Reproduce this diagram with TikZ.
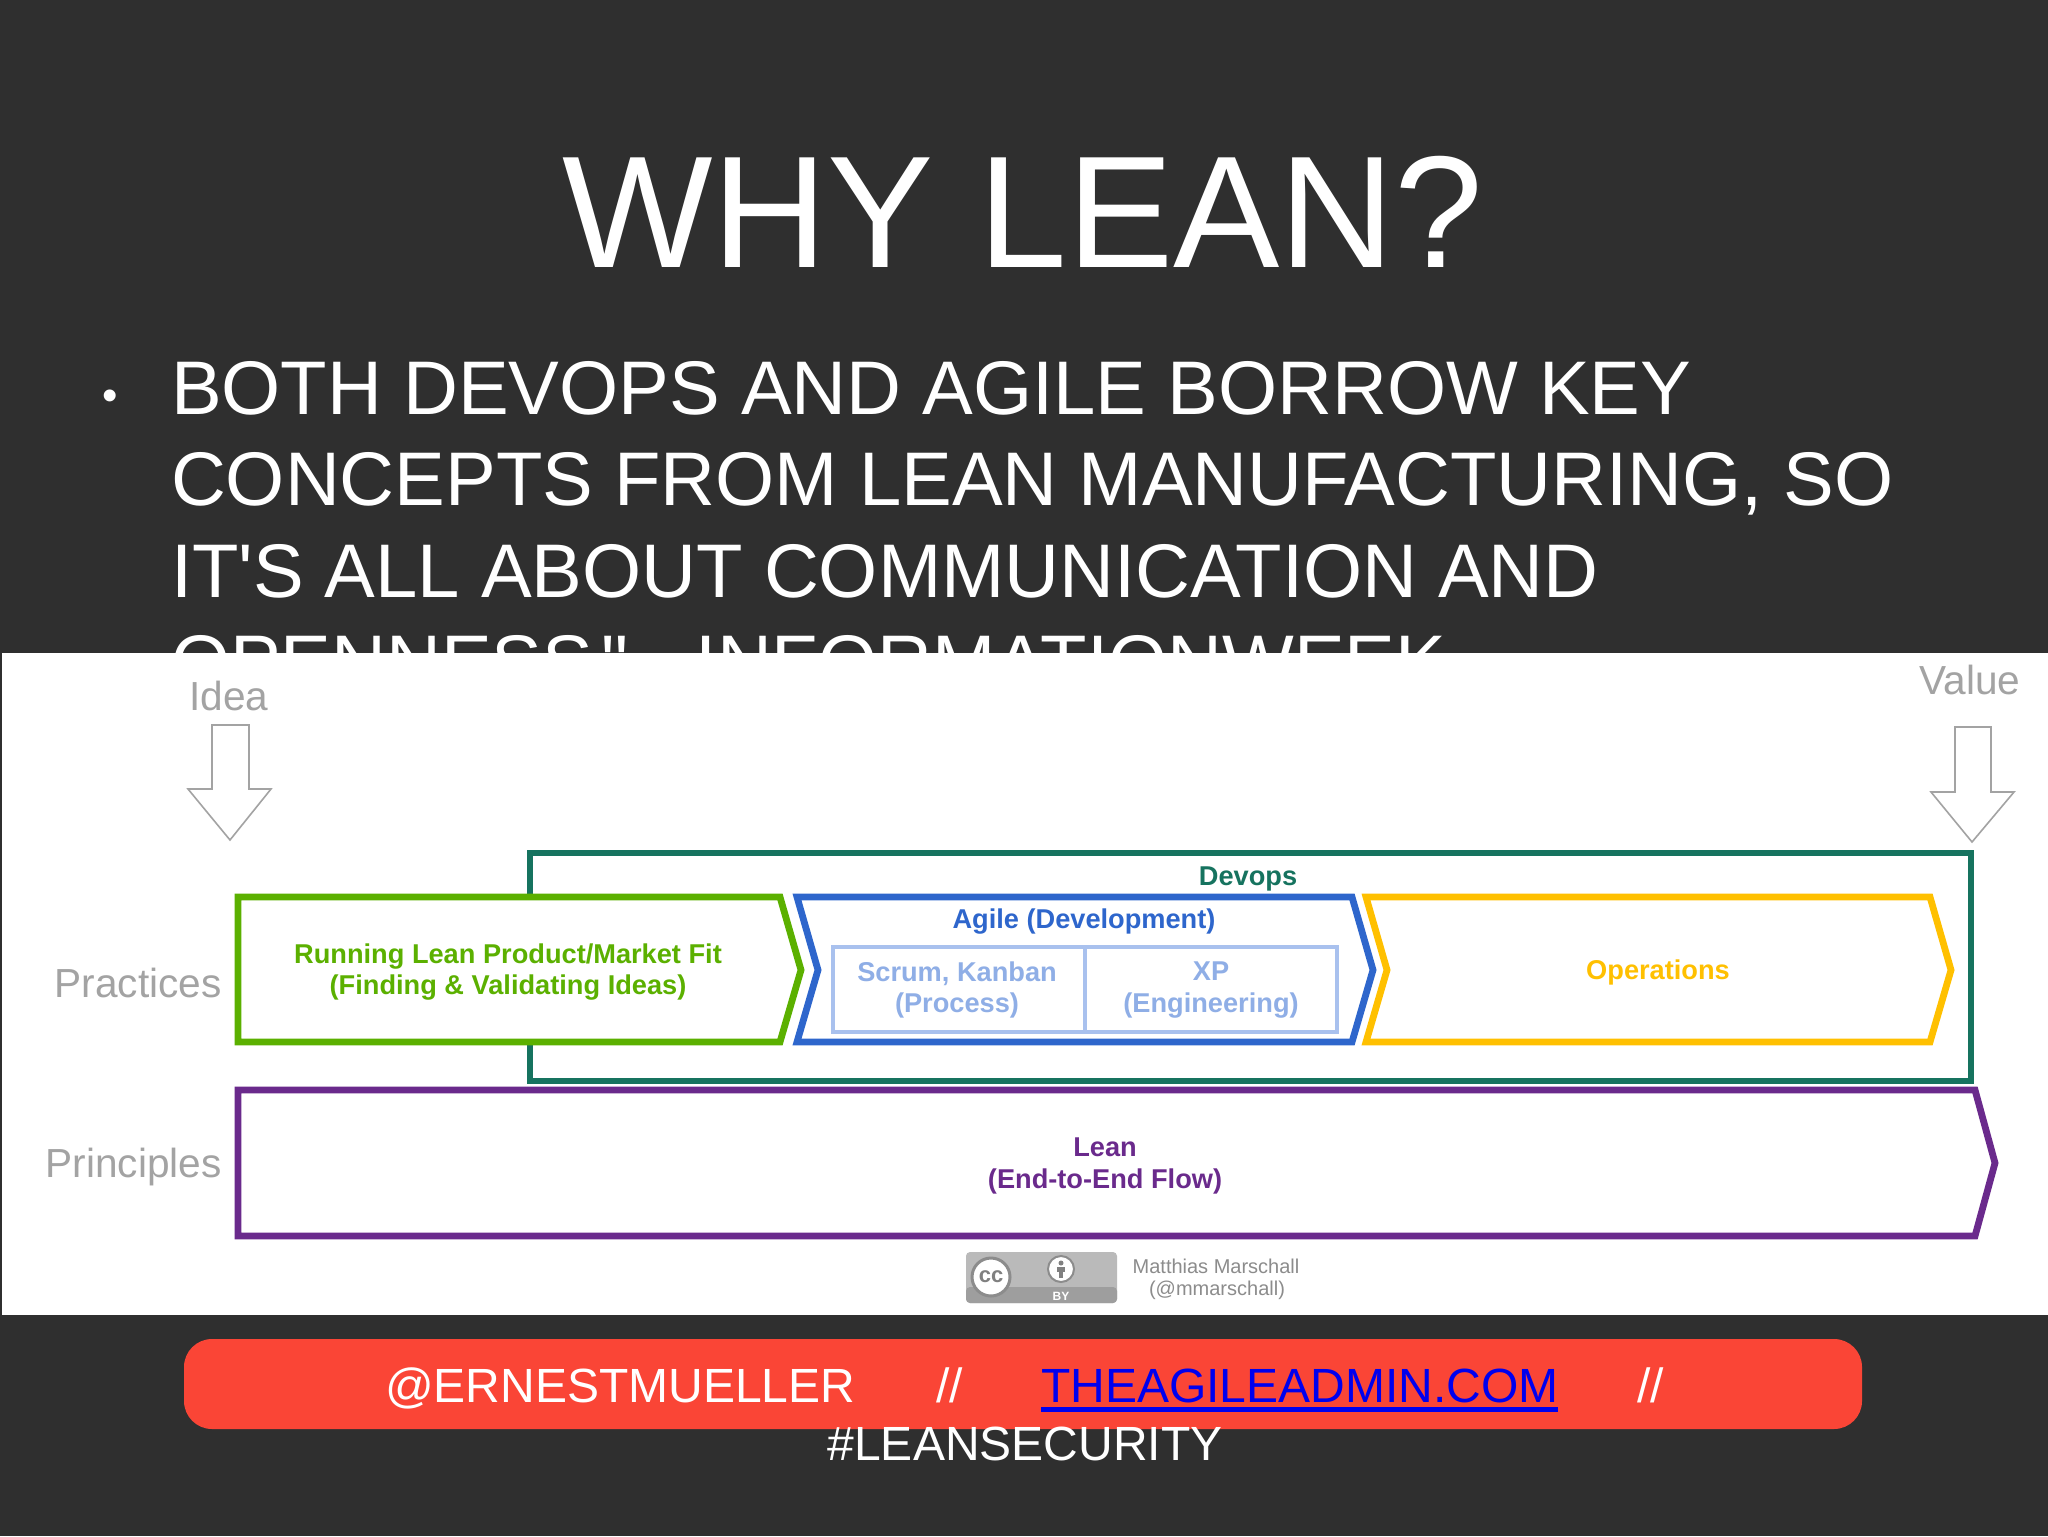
\documentclass[tikz,border=0pt]{standalone}
\usepackage{fontspec}
\setmainfont{Liberation Sans}
\newfontfamily\plainfont{Liberation Sans}
\definecolor{bgdark}{HTML}{2F2F2F}
\definecolor{redbar}{HTML}{FA4536}
\definecolor{linkblue}{HTML}{0000EE}
\definecolor{gtext}{HTML}{A3A3A3}
\definecolor{cgreen}{HTML}{5BB000}
\definecolor{cblue}{HTML}{2E66CC}
\definecolor{cteal}{HTML}{16735F}
\definecolor{cyellow}{HTML}{FFC000}
\definecolor{cpurple}{HTML}{6A2A8C}
\definecolor{clight}{HTML}{A9C1EE}
\definecolor{clighttext}{HTML}{8FAEE6}
\newcommand{\fsz}[1]{\fontsize{#1pt}{#1pt}\selectfont}
\tikzset{
  x=0.5pt,y=-0.5pt,
  slide/.style={inner sep=0pt,outer sep=0pt,text=white,anchor=base west},
  boxline/.style={line width=3.4pt,fill=white,miter limit=10},
  downarrow/.style={draw=gtext,line width=0.8pt,fill=white},
  graylabel/.style={inner sep=0pt,text=gtext,font=\fsz{20.3}},
  boxtext/.style={inner sep=0pt,align=center,font=\fsz{13.6}\bfseries},
  subtext/.style={inner sep=0pt,align=center,text=clighttext,font=\fsz{13.6}\bfseries},
}
\begin{document}
\begin{tikzpicture}
\useasboundingbox (0,0) rectangle (2048,1536);
\fill[bgdark] (0,0) rectangle (2048,1536);
\node[inner sep=0pt,text=white,font=\fsz{79.7}] (title) at (1023,212) {WHY LEAN?};
\node[slide,anchor=base,font=\fsz{22}] (bullet) at (110,410) {•};
\node[slide,font=\fsz{38}] (l1) at (171,414) {BOTH DEVOPS AND AGILE BORROW KEY};
\node[slide,font=\fsz{38}] (l2) at (171,505.5) {CONCEPTS FROM LEAN MANUFACTURING, SO};
\node[slide,font=\fsz{38}\plainfont] (l3) at (171,597) {IT'S ALL ABOUT COMMUNICATION AND};
\node[slide,font=\fsz{38}\plainfont] (l4) at (171,688.5) {OPENNESS.\kern-6.5pt" - INFORMATIONWEEK};
% white image panel
\fill[white] (2,653) rectangle (2048,1315);
% gray arrows and labels
\node[graylabel] (idea) at (229,696) {Idea};
\draw[downarrow] (212,725) -- (249,725) -- (249,789) -- (271,789) -- (230,840) -- (188,789) -- (212,789) -- cycle;
\node[graylabel] (value) at (1970,680) {Value};
\draw[downarrow] (1955,727) -- (1991,727) -- (1991,792) -- (2014,792) -- (1972,842) -- (1931,792) -- (1955,792) -- cycle;
\node[graylabel,anchor=east] (practices) at (222,983) {Practices};
\node[graylabel,anchor=east] (principles) at (222,1167) {Principles};
% devops
\draw[boxline,draw=cteal] (530,853) rectangle (1971,1081);
\node[boxtext,text=cteal] (devops) at (1248,879) {Devops};
% green chevron
\draw[boxline,draw=cgreen] (238,897) -- (780,897) -- (801,970) -- (780,1042) -- (238,1042) -- cycle;
\node[boxtext,text=cgreen] (running) at (508,972) {Running Lean Product/Market Fit\\[2pt](Finding \& Validating Ideas)};
% blue chevron
\draw[boxline,draw=cblue] (797,897) -- (1352,897) -- (1373,970) -- (1352,1042) -- (797,1042) -- (818,970) -- cycle;
\node[boxtext,text=cblue] (agile) at (1084,922) {Agile (Development)};
\draw[line width=2pt,draw=clight,fill=white] (833,947) rectangle (1337,1032);
\draw[line width=2pt,draw=clight] (1085,947) -- (1085,1032);
\node[subtext] (scrum) at (957,990) {Scrum, Kanban\\[2pt](Process)};
\node[subtext] (xp) at (1211,990) {XP\\[2pt](Engineering)};
% yellow chevron
\draw[boxline,draw=cyellow] (1366,897) -- (1930,897) -- (1951,970) -- (1930,1042) -- (1366,1042) -- (1387,970) -- cycle;
\node[boxtext,text=cyellow] (ops) at (1658,972) {Operations};
% purple chevron
\draw[boxline,draw=cpurple] (238,1090) -- (1975,1090) -- (1995,1163) -- (1975,1236) -- (238,1236) -- cycle;
\node[boxtext,text=cpurple] (lean) at (1105,1166) {Lean\\[2pt](End-to-End Flow)};
% cc badge
\fill[rounded corners=2pt,fill=black!27] (966,1252) rectangle (1117,1303);
\fill[rounded corners=2pt,fill=black!38] (966,1287) rectangle (1117,1303);
\draw[fill=white,draw=black!45,line width=1.5pt] (991,1277) circle[radius=19];
\node[inner sep=0pt,text=black!50,font=\fsz{11}\bfseries] (cc) at (991,1277) {cc};
\draw[fill=white,draw=black!45,line width=1pt] (1061,1269) circle[radius=13];
\fill[black!50] (1061,1263) circle[radius=2.5];
\fill[black!50] (1057,1267) rectangle (1065,1272);
\fill[black!50] (1059,1272) rectangle (1063,1278);
\node[inner sep=0pt,text=white,font=\fsz{6}\bfseries] (by) at (1061,1296) {BY};
\node[inner sep=0pt,text=black!45,font=\fsz{10}] (matthias) at (1216,1266) {Matthias Marschall};
\node[inner sep=0pt,text=black!45,font=\fsz{10}] (handle) at (1217,1290) {(@mmarschall)};
% footer
\fill[redbar,rounded corners=14pt] (184,1339) rectangle (1862,1429);
\node[slide,font=\fsz{24}] (f1) at (385,1402) {@ERNESTMUELLER};
\node[slide,font=\fsz{24}] (f2) at (936,1402) {//};
\node[slide,font=\fsz{24},text=linkblue] (f3) at (1041,1402) {THEAGILEADMIN.COM};
\draw[linkblue,line width=2.2pt] ([yshift=-3.7pt]f3.base west) -- ([yshift=-3.7pt]f3.base east);
\node[slide,font=\fsz{24}] (f4) at (1637,1402) {//};
\node[slide,font=\fsz{24},anchor=base] (f5) at (1025,1460) {\#LEANSECURITY};
\end{tikzpicture}
\end{document}
